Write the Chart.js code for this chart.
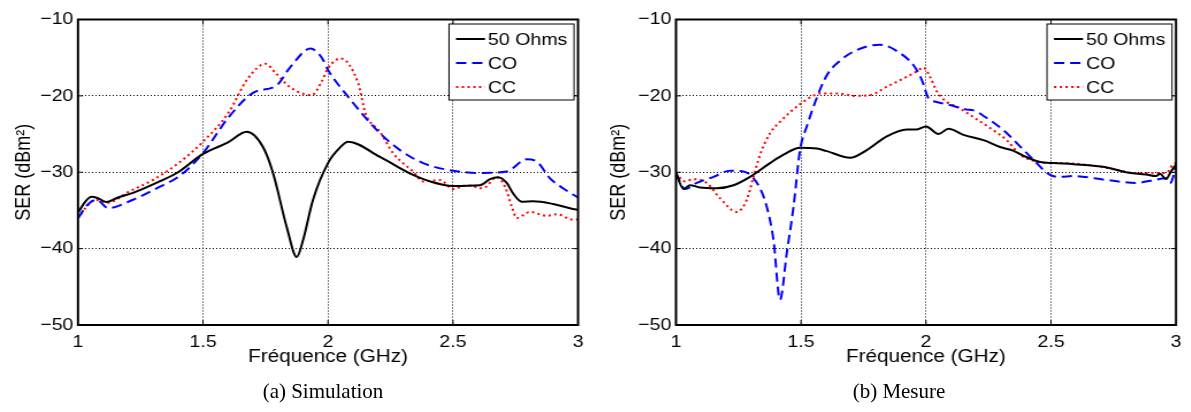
<!DOCTYPE html>
<html>
<head>
<meta charset="utf-8">
<script src="https://cdn.jsdelivr.net/npm/chart.js@4.4.0/dist/chart.umd.min.js"></script>
<style>
  body { margin: 0; background: #fff; }
  #wrap { position: relative; width: 1191px; height: 412px; overflow: hidden; }
  .panel { position: absolute; top: 0; transform-origin: 0 0; transform: scaleX(1.15); }
  .cap { position: absolute; top: 379px; font-family: "Liberation Serif", "DejaVu Serif", serif; font-size: 21px; color: #000; white-space: nowrap; transform: translateX(-50%); }
</style>
</head>
<body>
<div id="wrap">
  <canvas id="sim" class="panel" width="518" height="412" style="left:0px"></canvas>
  <canvas id="mes" class="panel" width="518" height="412" style="left:595px"></canvas>
  <div class="cap" style="left:323px">(a) Simulation</div>
  <div class="cap" style="left:899px">(b) Mesure</div>
</div>
<script>
// (a) Simulation
const simOhmsX = [1.0, 1.03, 1.055, 1.08, 1.115, 1.16, 1.22, 1.32, 1.4, 1.5, 1.6, 1.675, 1.74, 1.78, 1.835, 1.875, 1.9, 1.94, 2.0, 2.05, 2.08, 2.208, 2.34, 2.408, 2.5, 2.608, 2.648, 2.68, 2.715, 2.74, 2.775, 2.82, 2.9, 2.98, 3.0];
const simOhmsY = [-35.3, -33.8, -33.2, -33.4, -33.9, -33.3, -32.7, -31.3, -30.0, -27.6, -26.1, -24.7, -26.7, -30.1, -37.2, -41.1, -38.9, -33.6, -28.8, -26.7, -26.0, -28.0, -30.35, -31.2, -31.8, -31.7, -30.9, -30.65, -31.4, -32.75, -33.85, -33.8, -34.15, -34.8, -34.9];
const simCoX = [1.0, 1.04, 1.075, 1.12, 1.22, 1.315, 1.41, 1.5, 1.6, 1.7, 1.795, 1.85, 1.93, 1.975, 2.0, 2.08, 2.208, 2.288, 2.38, 2.5, 2.608, 2.715, 2.795, 2.835, 2.888, 2.94, 3.0];
const simCoY = [-36.0, -34.2, -33.6, -34.7, -33.6, -32.1, -30.4, -27.5, -22.9, -19.6, -18.6, -16.2, -13.8, -15.0, -16.6, -20.1, -24.9, -27.1, -28.8, -29.8, -30.1, -29.9, -28.3, -28.6, -30.8, -32.1, -33.3];
const simCcX = [1.0, 1.04, 1.07, 1.12, 1.2, 1.3, 1.41, 1.5, 1.6, 1.68, 1.75, 1.79, 1.85, 1.935, 1.975, 2.0, 2.05, 2.12, 2.15, 2.208, 2.26, 2.3, 2.34, 2.38, 2.448, 2.5, 2.555, 2.62, 2.675, 2.708, 2.735, 2.755, 2.808, 2.875, 2.915, 2.98, 3.0];
const simCcY = [-36.0, -34.3, -33.6, -34.0, -32.6, -31.0, -28.6, -26.0, -22.3, -17.7, -15.8, -17.0, -18.9, -19.9, -18.1, -16.4, -15.1, -18.3, -22.3, -24.7, -27.5, -28.8, -29.9, -31.2, -31.0, -32.2, -31.7, -32.1, -30.65, -31.9, -34.5, -36.0, -35.2, -35.7, -35.5, -36.2, -36.2];

// (b) Mesure
const mesOhmsX = [1.0, 1.03, 1.056, 1.096, 1.163, 1.23, 1.296, 1.376, 1.43, 1.496, 1.563, 1.6, 1.696, 1.763, 1.843, 1.923, 1.963, 2.0, 2.05, 2.09, 2.15, 2.23, 2.296, 2.35, 2.4, 2.456, 2.51, 2.59, 2.72, 2.8, 2.88, 2.92, 2.936, 2.96, 2.98, 3.0];
const mesOhmsY = [-30.1, -32.2, -31.7, -32.0, -32.1, -31.7, -30.6, -28.8, -27.7, -26.8, -26.9, -27.2, -28.1, -27.1, -25.3, -24.4, -24.4, -24.0, -25.0, -24.3, -25.1, -25.8, -26.7, -27.2, -28.0, -28.65, -28.8, -28.95, -29.35, -30.0, -30.3, -30.5, -30.2, -30.9, -29.9, -29.0];
const mesCoX = [1.0, 1.036, 1.083, 1.15, 1.216, 1.27, 1.31, 1.336, 1.363, 1.39, 1.416, 1.443, 1.47, 1.496, 1.523, 1.6, 1.656, 1.723, 1.816, 1.896, 1.95, 1.983, 2.01, 2.043, 2.096, 2.163, 2.19, 2.243, 2.31, 2.376, 2.43, 2.496, 2.536, 2.59, 2.72, 2.84, 2.9, 2.96, 2.976, 3.0];
const mesCoY = [-30.1, -32.2, -31.4, -30.6, -29.8, -29.9, -30.8, -32.1, -34.5, -38.9, -46.7, -40.6, -34.5, -27.1, -24.0, -17.5, -15.4, -14.0, -13.3, -14.4, -16.0, -17.9, -20.3, -20.8, -21.2, -21.8, -21.9, -22.9, -24.5, -26.6, -28.4, -30.35, -30.6, -30.5, -31.0, -31.4, -31.1, -30.8, -31.45, -29.3];
const mesCcX = [1.0, 1.036, 1.07, 1.123, 1.176, 1.243, 1.283, 1.31, 1.336, 1.376, 1.416, 1.5, 1.58, 1.656, 1.709, 1.776, 1.843, 1.923, 1.963, 1.99, 2.016, 2.043, 2.083, 2.123, 2.19, 2.256, 2.323, 2.376, 2.43, 2.483, 2.55, 2.66, 2.72, 2.84, 2.9, 2.96, 2.99, 3.0];
const mesCcY = [-30.1, -31.2, -30.9, -31.4, -33.4, -35.2, -33.6, -30.6, -27.7, -24.9, -23.4, -21.0, -19.7, -19.7, -20.0, -19.9, -18.8, -17.5, -16.8, -16.3, -17.5, -19.4, -20.8, -21.4, -22.8, -24.2, -25.8, -27.7, -28.5, -28.8, -28.8, -29.1, -29.4, -30.1, -30.1, -30.1, -28.9, -28.8];

const seriesLabels = ['50 Ohms', 'CO', 'CC'];
const xTicks = [1, 1.5, 2, 2.5, 3];
const yTicks = [-50, -40, -30, -20, -10];

const S = 1.15; // the original figure is stretched horizontally

Chart.defaults.font.family = '"Liberation Sans", Arial, sans-serif';
Chart.defaults.font.size = 17;
Chart.defaults.color = '#000';

function pts(xs, ys) {
  return xs.map((x, i) => ({ x: x, y: ys[i] }));
}

// box, inner ticks and legend like matlab
const framePlugin = {
  id: 'frame',
  afterDraw(chart) {
    const ctx = chart.ctx;
    const a = chart.chartArea;
    const xs = chart.scales.x, ys = chart.scales.y;
    ctx.save();
    ctx.strokeStyle = '#000';
    ctx.lineWidth = 1;
    xTicks.slice(1, -1).forEach(v => {
      const px = xs.getPixelForValue(v);
      ctx.beginPath();
      ctx.moveTo(px, a.bottom); ctx.lineTo(px, a.bottom - 5);
      ctx.moveTo(px, a.top); ctx.lineTo(px, a.top + 5);
      ctx.stroke();
    });
    yTicks.slice(1, -1).forEach(v => {
      const py = ys.getPixelForValue(v);
      ctx.beginPath();
      ctx.moveTo(a.left, py); ctx.lineTo(a.left + 5 / S, py);
      ctx.moveTo(a.right, py); ctx.lineTo(a.right - 5 / S, py);
      ctx.stroke();
    });
    ctx.lineWidth = 2;
    ctx.strokeRect(a.left, a.top, a.right - a.left, a.bottom - a.top);

    // legend
    const w = 125 / S, h = 76;
    const lx = a.right - 4 / S - w, ly = a.top + 4.5;
    ctx.fillStyle = '#fff';
    ctx.fillRect(lx, ly, w, h);
    ctx.lineWidth = 1;
    ctx.strokeRect(lx, ly, w, h);
    ctx.font = '17px "Liberation Sans", Arial, sans-serif';
    ctx.textBaseline = 'middle';
    ctx.fillStyle = '#000';
    chart.data.datasets.forEach((ds, i) => {
      const cy = ly + 15 + i * 24;
      ctx.save();
      ctx.strokeStyle = ds.borderColor;
      ctx.lineWidth = ds.borderWidth;
      ctx.setLineDash(ds.borderDash || []);
      ctx.beginPath();
      ctx.moveTo(lx + 7 / S, cy); ctx.lineTo(lx + 36 / S, cy);
      ctx.stroke();
      ctx.restore();
      ctx.fillText(ds.label, lx + 39 / S, cy + 1);
    });
    ctx.restore();
  }
};

function makeChart(id, ohms, co, cc, leftPx, rightPx) {
  const canvas = document.getElementById(id);
  const cw = canvas.width;
  const yWidth = leftPx / S;
  const padRight = cw - rightPx / S;
  return new Chart(canvas, {
    type: 'line',
    data: {
      datasets: [
        { label: seriesLabels[0], data: ohms, borderColor: '#000000', borderWidth: 2, borderDash: [] },
        { label: seriesLabels[1], data: co, borderColor: '#0000ff', borderWidth: 2, borderDash: [9, 5] },
        { label: seriesLabels[2], data: cc, borderColor: '#ff0000', borderWidth: 2, borderDash: [2, 3] }
      ]
    },
    options: {
      responsive: false,
      animation: false,
      layout: { padding: { left: 0, right: padRight, top: 19.5, bottom: 37 } },
      elements: {
        point: { radius: 0 },
        line: { cubicInterpolationMode: 'monotone', fill: false }
      },
      plugins: { legend: { display: false }, tooltip: { enabled: false } },
      scales: {
        x: {
          type: 'linear', min: 1, max: 3,
          afterBuildTicks: s => { s.ticks = xTicks.map(v => ({ value: v })); },
          afterFit: s => { s.height = 50; },
          ticks: { padding: 7, callback: v => String(v) },
          grid: {
            drawTicks: false, lineWidth: 1,
            color: c => (c.tick && (c.tick.value === 1 || c.tick.value === 3)) ? 'rgba(0,0,0,0)' : '#000'
          },
          border: { display: false, dash: [1, 2] },
          title: { display: true, text: 'Fréquence (GHz)', font: { size: 18 }, padding: { top: 0, bottom: 7.2 } }
        },
        y: {
          type: 'linear', min: -50, max: -10,
          afterBuildTicks: s => { s.ticks = yTicks.map(v => ({ value: v })); },
          afterFit: s => { s.width = yWidth; },
          ticks: { padding: 4, callback: v => (v < 0 ? '\u2212' : '') + Math.abs(v) },
          grid: {
            drawTicks: false, lineWidth: 1,
            color: c => (c.tick && (c.tick.value === -50 || c.tick.value === -10)) ? 'rgba(0,0,0,0)' : '#000'
          },
          border: { display: false, dash: [1, 2] },
          title: { display: true, text: 'SER (dBm\u00b2)', font: { size: 18 }, padding: { top: 10.5, bottom: 0 } }
        }
      }
    },
    plugins: [framePlugin]
  });
}

makeChart('sim', pts(simOhmsX, simOhmsY), pts(simCoX, simCoY), pts(simCcX, simCcY), 78, 578);
makeChart('mes', pts(mesOhmsX, mesOhmsY), pts(mesCoX, mesCoY), pts(mesCcX, mesCcY), 676 - 595, 1176 - 595);
</script>
</body>
</html>
